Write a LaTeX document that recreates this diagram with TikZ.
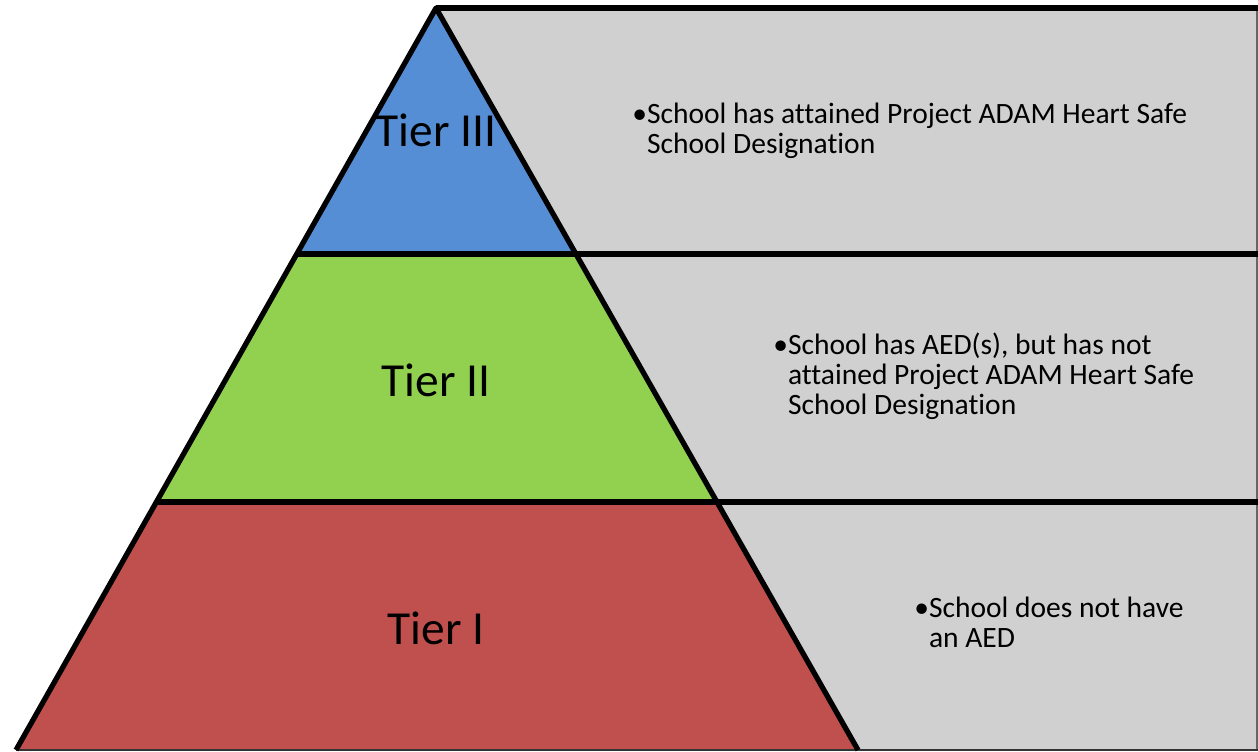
\documentclass[tikz,border=0pt]{standalone}
\usepackage{fontspec}
\setmainfont{Carlito}[Ligatures=CommonOff]
\usepackage{xcolor}
\definecolor{tierblue}{RGB}{85,142,213}
\definecolor{tiergreen}{RGB}{146,208,80}
\definecolor{tierred}{RGB}{192,80,77}
\definecolor{boxgray}{RGB}{208,208,208}
\tikzset{
  tier/.style={font=\fontsize{27}{30}\selectfont},
  desc/.style={anchor=base west, inner sep=0pt, font=\fontsize{16.8}{17.1}\selectfont},
  edge/.style={line width=3pt, line join=round}
}
\newcommand{\bul}[1]{\textbullet\begin{tabular}[t]{@{}l@{}}#1\end{tabular}}

\begin{document}
\begin{tikzpicture}[x=0.2mm,y=-0.2mm]
\useasboundingbox (0,0) rectangle (1258,751);
% gray panel
\fill[boxgray] (436,8) rectangle (1258,751);
\draw[black!60, line width=0.6pt] (1257,8) -- (1257,749);
% pyramid corners
\coordinate (top) at (436,8);
\coordinate (l1) at (296,254);
\coordinate (r1) at (576,254);
\coordinate (l2) at (156,502);
\coordinate (r2) at (718,502);
\coordinate (l3) at (16,750);
\coordinate (r3) at (858,750);
\fill[tierblue] (top) -- (r1) -- (l1) -- cycle;
\fill[tiergreen] (l1) -- (r1) -- (r2) -- (l2) -- cycle;
\fill[tierred] (l2) -- (r2) -- (r3) -- (l3) -- cycle;
\draw[black!80, line width=1pt] (l3) -- (1258,750);
\draw[edge] (l3) -- (top) -- (r3);
\draw[edge] (top) -- (1258,8);
\draw[edge] (l1) -- (1258,254);
\draw[edge] (l2) -- (1258,502);
% labels
\node[tier] (t3) at (436,130) {Tier III};
\node[tier] (t2) at (436,380) {Tier II};
\node[tier] (t1) at (436,628) {Tier I};
\node[desc] (d3) at (632,123) {\bul{School has attained Project ADAM Heart Safe\\School Designation}};
\node[desc] (d2) at (773,354) {\bul{School has AED(s), but has not\\attained Project ADAM Heart Safe\\School Designation}};
\node[desc] (d1) at (914,617) {\bul{School does not have\\an AED}};
\end{tikzpicture}
\end{document}
